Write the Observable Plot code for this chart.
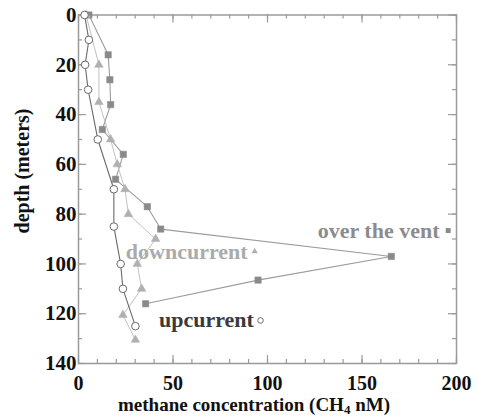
<!DOCTYPE html>
<html>
<head>
<meta charset="utf-8">
<script src="https://cdn.jsdelivr.net/npm/d3@7"></script>
<script src="https://cdn.jsdelivr.net/npm/@observablehq/plot@0.6"></script>
<style>
  body { margin: 0; background: #fff; }
  #chart svg { display: block; }
  #chart svg, #chart svg text { font-family: 'Liberation Serif', 'Times New Roman', serif !important; }
</style>
</head>
<body>
<div id="chart"></div>
<script>
// --- data (methane concentration nM, depth m) ---
const overVentConc  = [5.5, 15.7, 16.6, 17.0, 12.6, 23.7, 19.6, 36.4, 43.5, 165.5, 95.0, 35.5];
const overVentDepth = [0, 16, 26, 36, 46, 56, 66, 77, 86, 97, 106.5, 116];

const downConc  = [4.0, 10.8, 10.8, 17.0, 20.5, 24.6, 26.4, 40.8, 31.1, 33.4, 23.5, 30.1];
const downDepth = [0, 20, 35, 50, 60, 70, 80, 90, 100, 110, 120.5, 130.5];

const upConc  = [3.2, 5.5, 3.5, 5.1, 10.2, 18.7, 18.7, 22.3, 23.5, 30.1];
const upDepth = [0, 10, 20, 30, 50, 70, 85, 100, 110, 125];

const seriesNames = ["over the vent", "downcurrent", "upcurrent"];
const labelEndX   = [191, 89.5, 92.8];   // label text end (data units)
const labelDepth  = [86.6, 95, 122.7];
const markerX     = [195.6, 93.2, 96.3];

const xMajor = [0, 50, 100, 150, 200];
const xMinor = d3.range(0, 201, 10);
const yMajor = [0, 20, 40, 60, 80, 100, 120, 140];
const yMinor = d3.range(0, 141, 10);

// --- layout ---
const W = 478, H = 417, mL = 78, mR = 22, mT = 14.5, mB = 54;
const plotW = W - mL - mR, plotH = H - mT - mB;
const frameColor = "#9a9a9a";
const font = "'Liberation Serif', 'Times New Roman', serif";

const zip = (xs, ys) => xs.map((x, i) => ({x, depth: ys[i]}));
const overVent = zip(overVentConc, overVentDepth);
const down = zip(downConc, downDepth);
const up = zip(upConc, upDepth);
const legend = seriesNames.map((name, i) => ({name, lx: labelEndX[i], mx: markerX[i], depth: labelDepth[i]}));
const labelColors = ["#8c8c8c", "#ababab", "#3a3a3a"];

const tickMarks = (len, vals) => [
  Plot.tickX(vals, {x: d => d, stroke: frameColor, strokeWidth: 1.2, insetTop: plotH - len}),
  Plot.tickX(vals, {x: d => d, stroke: frameColor, strokeWidth: 1.2, insetBottom: plotH - len}),
];
const tickMarksY = (len, vals) => [
  Plot.tickY(vals, {y: d => d, stroke: frameColor, strokeWidth: 1.2, insetRight: plotW - len}),
  Plot.tickY(vals, {y: d => d, stroke: frameColor, strokeWidth: 1.2, insetLeft: plotW - len}),
];

const chart = Plot.plot({
  width: W, height: H,
  marginLeft: mL, marginRight: mR, marginTop: mT, marginBottom: mB,
  style: {fontFamily: font, background: "#fff"},
  x: {domain: [0, 200]},
  y: {domain: [0, 140], reverse: true},
  marks: [
    ...tickMarks(4, xMinor),
    ...tickMarks(8, xMajor),
    ...tickMarksY(4, yMinor),
    ...tickMarksY(8, yMajor),
    Plot.frame({stroke: frameColor, strokeWidth: 1.5}),
    Plot.axisX({ticks: xMajor, tickSize: 0, tickPadding: 12, fontSize: 20, fontWeight: "bold", fill: "#111", label: null}),
    Plot.axisY({ticks: yMajor, tickSize: 0, tickPadding: 2, fontSize: 21, fontWeight: "bold", fill: "#111", label: null}),
    // lines
    Plot.line(overVent, {x: "x", y: "depth", stroke: "#9c9c9c", strokeWidth: 1.1}),
    Plot.line(down, {x: "x", y: "depth", stroke: "#c2c2c2", strokeWidth: 1}),
    Plot.line(up, {x: "x", y: "depth", stroke: "#6a6a6a", strokeWidth: 1.1}),
    // markers
    Plot.dot(overVent, {x: "x", y: "depth", symbol: "square", r: 3.6, fill: "#8a8a8a", stroke: "#8a8a8a", strokeWidth: 0.5}),
    Plot.dot(down, {x: "x", y: "depth", symbol: "triangle", r: 3.2, fill: "#b0b0b0", stroke: "#b0b0b0", strokeWidth: 0.5}),
    Plot.dot(up, {x: "x", y: "depth", symbol: "circle", r: 3.8, fill: "#fff", stroke: "#6a6a6a", strokeWidth: 1}),
    // labels
    Plot.text(legend, {x: "lx", y: "depth", text: "name", textAnchor: "end", fontSize: 22, fontWeight: "bold",
      fill: (d) => labelColors[seriesNames.indexOf(d.name)]}),
    Plot.dot(legend.slice(0, 1), {x: "mx", y: "depth", symbol: "square", r: 2.8, fill: "#8a8a8a"}),
    Plot.dot(legend.slice(1, 2), {x: "mx", y: "depth", symbol: "triangle", r: 2.4, fill: "#b0b0b0"}),
    Plot.dot(legend.slice(2, 3), {x: "mx", y: "depth", symbol: "circle", r: 2.8, fill: "#fff", stroke: "#6a6a6a", strokeWidth: 1}),
  ]
});

// axis titles (with subscript)
const svg = d3.select(chart);
const xt = svg.append("text")
  .attr("x", 254).attr("y", 411)
  .attr("text-anchor", "middle")
  .attr("font-family", font).attr("font-weight", "bold").attr("font-size", 19).attr("fill", "#111");
xt.append("tspan").text("methane concentration (CH");
xt.append("tspan").attr("font-size", 13).attr("dy", 3).text("4");
xt.append("tspan").attr("dy", -3).text(" nM)");

svg.append("text")
  .attr("transform", "translate(29,171) rotate(-90)")
  .attr("text-anchor", "middle")
  .attr("font-family", font).attr("font-weight", "bold").attr("font-size", 20).attr("fill", "#111")
  .text("depth (meters)");

document.getElementById("chart").append(chart);
</script>
</body>
</html>
